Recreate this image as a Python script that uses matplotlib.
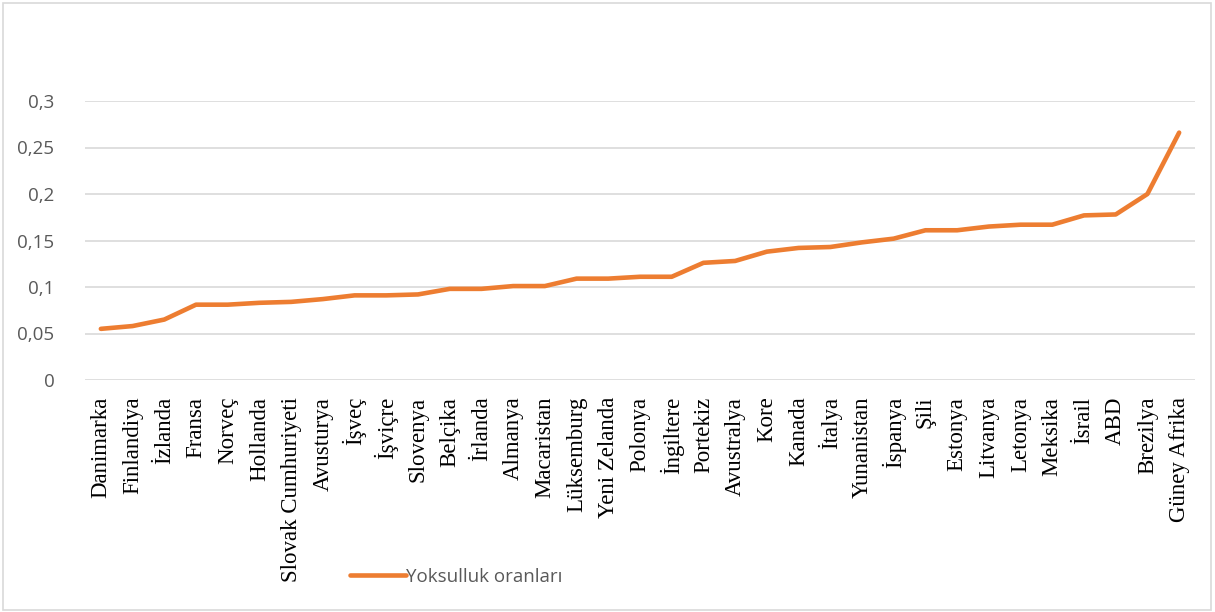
import numpy as np
import matplotlib.pyplot as plt
from matplotlib.patches import Rectangle

countries = ['Danimarka', 'Finlandiya', 'İzlanda', 'Fransa', 'Norveç', 'Hollanda',
             'Slovak Cumhuriyeti', 'Avusturya', 'İşveç', 'İşviçre', 'Slovenya',
             'Belçika', 'İrlanda', 'Almanya', 'Macaristan', 'Lüksemburg',
             'Yeni Zelanda', 'Polonya', 'İngiltere', 'Portekiz', 'Avustralya',
             'Kore', 'Kanada', 'İtalya', 'Yunanistan', 'İspanya', 'Şili',
             'Estonya', 'Litvanya', 'Letonya', 'Meksika', 'İsrail', 'ABD',
             'Brezilya', 'Güney Afrika']
poverty = [0.055, 0.058, 0.065, 0.081, 0.081, 0.083, 0.084, 0.087, 0.091, 0.091,
           0.092, 0.098, 0.098, 0.101, 0.101, 0.109, 0.109, 0.111, 0.111, 0.126,
           0.128, 0.138, 0.142, 0.143, 0.148, 0.152, 0.161, 0.161, 0.165, 0.167,
           0.167, 0.177, 0.178, 0.200, 0.266]
y_ticks = [0, 0.05, 0.1, 0.15, 0.2, 0.25, 0.3]
y_labels = ['0', '0,05', '0,1', '0,15', '0,2', '0,25', '0,3']

W, H = 1215, 612
fig = plt.figure(figsize=(W / 100, H / 100), dpi=100)
ax = fig.add_axes([85 / W, (H - 380) / H, (1195 - 85) / W, (380 - 101) / H])

x = np.arange(len(countries))
line, = ax.plot(x, poverty, color='#ED7D31', linewidth=3.3,
                solid_capstyle='round', solid_joinstyle='round', zorder=3)

ax.set_xlim(-0.5, len(countries) - 0.5)
ax.set_ylim(0, 0.3)
ax.set_yticks(y_ticks)
ax.set_yticklabels(y_labels, color='#595959', fontsize=13.5, family='Open Sans')
ax.set_xticks(x)
ax.set_xticklabels(countries, rotation=90, fontsize=16.5,
                   family='Liberation Serif', color='black', va='top')
ax.tick_params(axis='both', length=0)
ax.tick_params(axis='x', pad=12)
ax.tick_params(axis='y', pad=22)

ax.grid(axis='y', color='#D9D9D9', linewidth=1.2)
ax.set_axisbelow(True)
for s in ax.spines.values():
    s.set_visible(False)

# legend below the tick labels
fig.legend([line], ['Yoksulluk oranları'], loc='center left',
           bbox_to_anchor=(333 / W, 1 - 577 / H), frameon=False,
           handlelength=3.0, handletextpad=0.0,
           prop={'family': 'Open Sans', 'size': 13.5}, labelcolor='#595959')

# chart border
fig.patches.append(Rectangle((3 / W, 2 / H), (W - 7) / W, (H - 5) / H,
                             transform=fig.transFigure, fill=False,
                             edgecolor='#D9D9D9', linewidth=1.2))

fig.savefig('out.png', dpi=100)
